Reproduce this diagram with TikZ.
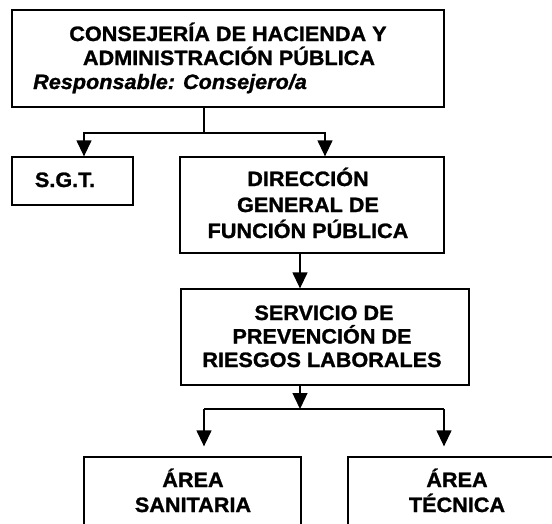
\documentclass[tikz,border=0pt]{standalone}
\usepackage{fontspec}
\newfontfamily\hv[FakeStretch=1.04,FakeBold=1.2]{Liberation Sans}
\usetikzlibrary{arrows.meta}
\begin{document}
\begin{tikzpicture}[x=1pt,y=-1pt,
  box/.style={draw, line width=1.3pt, inner sep=0pt, rectangle},
  txt/.style={inner sep=0pt, anchor=base, font=\hv\bfseries\fontsize{20.8}{24}\selectfont},
  itx/.style={inner sep=0pt, anchor=base west, font=\hv\bfseries\itshape\fontsize{20.8}{24}\selectfont},
  wire/.style={line width=1.3pt},
  arr/.style={line width=1.3pt, -{Triangle[width=15pt,length=16pt]}}]
\useasboundingbox (0,0) rectangle (552,523);
\clip (0,0) rectangle (552,523);
\fill[white] (0,0) rectangle (552,523);
% boxes
\node[box, minimum width=432pt, minimum height=97pt] (top) at (228,58.5) {};
\node[box, minimum width=121pt, minimum height=48pt] (sgt) at (72.5,181) {};
\node[box, minimum width=264pt, minimum height=96pt] (dgfp) at (312,205) {};
\node[box, minimum width=288pt, minimum height=96pt] (sprl) at (325,337) {};
\node[box, minimum width=217pt, minimum height=103pt] (sanit) at (192.5,508.5) {};
\node[box, minimum width=218pt, minimum height=103pt] (tecn) at (457,508.5) {};
% texts
\node[txt] (t1) at (228,41) {CONSEJERÍA DE HACIENDA Y};
\node[txt] (t2) at (229,65) {ADMINISTRACIÓN PÚBLICA};
\node[itx] (t3) at (33,89) {Responsable: Consejero/a};
\node[txt] (s1) at (65,187) {S.G.T.};
\node[txt] (d1) at (308,186) {DIRECCIÓN};
\node[txt] (d2) at (308,212) {GENERAL DE};
\node[txt] (d3) at (308,238) {FUNCIÓN PÚBLICA};
\node[txt] (p1) at (324,320) {SERVICIO DE};
\node[txt] (p2) at (322,343.5) {PREVENCIÓN DE};
\node[txt] (p3) at (322,367) {RIESGOS LABORALES};
\node[txt] (a1) at (193,487) {ÁREA};
\node[txt] (a2) at (193,512) {SANITARIA};
\node[txt] (b1) at (457,487) {ÁREA};
\node[txt] (b2) at (457,512) {TÉCNICA};
% connectors
\coordinate (j1) at (204,133);
\coordinate (j1l) at (84,133);
\coordinate (j1r) at (325,133);
\draw[wire] (top.south -| j1) -- (j1);
\draw[arr] (j1) -- (j1l) -- (j1l |- sgt.north);
\draw[arr] (j1) -- (j1r) -- (j1r |- dgfp.north);
\coordinate (d) at (300,253);
\draw[arr] (dgfp.south -| d) -- (sprl.north -| d);
\coordinate (j2) at (300,409);
\coordinate (j2l) at (204,409);
\coordinate (j2r) at (444,409);
\draw[arr] (sprl.south -| j2) -- (j2);
\draw[wire] (j2l) -- (j2r);
\draw[arr, shorten >=10pt] (j2l) -- (j2l |- sanit.north);
\draw[arr, shorten >=10pt] (j2r) -- (j2r |- tecn.north);
\end{tikzpicture}
\end{document}
